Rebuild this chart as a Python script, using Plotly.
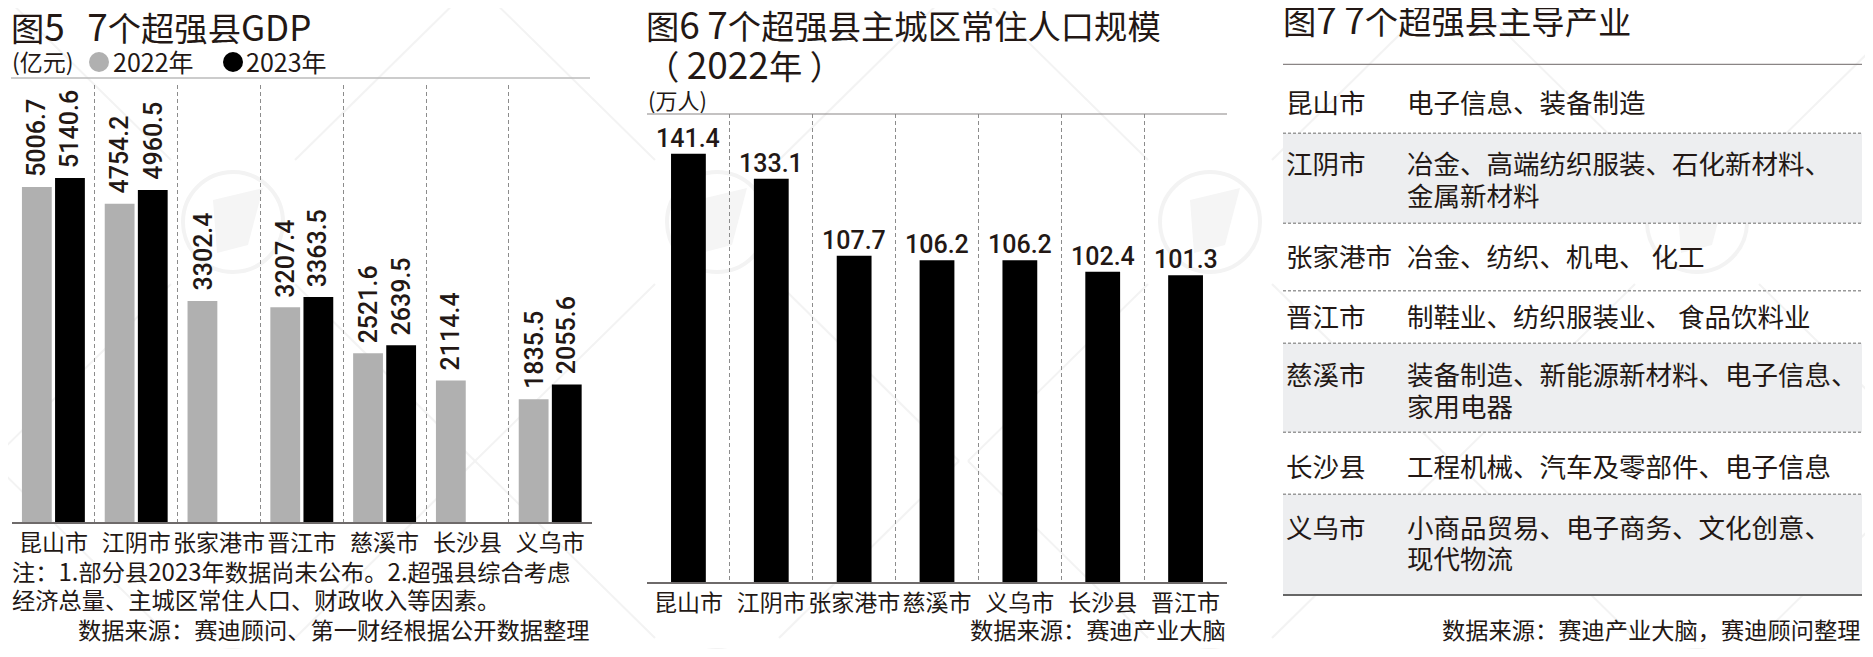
import plotly.graph_objs as go

# figure 5 data
gdp_cities = ['昆山市', '江阴市', '张家港市', '晋江市', '慈溪市', '长沙县', '义乌市']
gdp_2022 = [5006.7, 4754.2, 3302.4, 3207.4, 2521.6, 2114.4, 1835.5]
gdp_2023 = [5140.6, 4960.5, None, 3363.5, 2639.5, None, 2055.6]

# figure 6 data
pop_cities = ['昆山市', '江阴市', '张家港市', '慈溪市', '义乌市', '长沙县', '晋江市']
pop_2022 = [141.4, 133.1, 107.7, 106.2, 106.2, 102.4, 101.3]

# figure 7 table
ind_cities = ['昆山市', '江阴市', '张家港市', '晋江市', '慈溪市', '长沙县', '义乌市']
ind_text = [['电子信息、装备制造'],
            ['冶金、高端纺织服装、石化新材料、', '金属新材料'],
            ['冶金、纺织、机电、 化工'],
            ['制鞋业、纺织服装业、 食品饮料业'],
            ['装备制造、新能源新材料、电子信息、', '家用电器'],
            ['工程机械、汽车及零部件、电子信息'],
            ['小商品贸易、电子商务、文化创意、', '现代物流']]

# page has an 8px body margin, so everything is measured from there
OFF = 8
W = 1873 - 2 * OFF
H = 657 - 2 * OFF
FONT = 'Noto Sans CJK SC'
NUM_FONT = 'Roboto'
INK = '#231815'


def fx(px):
    return (px - OFF) / W


def fy(py):
    return 1 - (py - OFF) / H


def wide(s, size):
    # the original's latin glyphs run wider than the CJK font's
    return f'<span style="font-size:{size}px">{s}</span>'


def text(px, py, s, size=23.25, anchor='left', color=INK):
    return dict(xref='paper', yref='paper', x=fx(px), y=fy(py), text=s, showarrow=False,
                xanchor=anchor, yanchor='middle', borderpad=0,
                font=dict(family=FONT, size=size, color=color))


def hline(x0, x1, py, color, width=1, dash='solid', layer='above'):
    return dict(type='line', xref='paper', yref='paper', x0=fx(x0), x1=fx(x1), y0=fy(py), y1=fy(py),
                layer=layer, line=dict(color=color, width=width, dash=dash))


shapes = []
annotations = []

# watermark
for cx in [233, 717, 1210, 1697]:
    for cy in [222, 700]:
        shapes.append(dict(type='circle', xref='paper', yref='paper', layer='below',
                           x0=fx(cx - 50), x1=fx(cx + 50), y0=fy(cy - 50), y1=fy(cy + 50),
                           line=dict(color='#f3f3f3', width=4)))
        pts = [(-20, -22), (30, -34), (15, 23), (-16, 31)]
        path = 'M ' + ' L '.join(f'{fx(cx + a):.5f},{fy(cy + b):.5f}' for a, b in pts) + ' Z'
        shapes.append(dict(type='path', xref='paper', yref='paper', layer='below', path=path,
                           fillcolor='#f5f5f5', line=dict(width=0)))
        for sx in [-1, 1]:
            for sy in [-1, 1]:
                shapes.append(dict(type='line', xref='paper', yref='paper', layer='below',
                                   x0=fx(cx + sx * 62), y0=fy(cy + sy * 62),
                                   x1=fx(cx + sx * 242), y1=fy(cy + sy * 239),
                                   line=dict(color='#f3f3f3', width=2)))

# figure 5 heading
annotations.append(text(10, 25, '图' + wide('5', 37) + '\u00a0\u00a0\u00a0' + wide('7', 37) + '个超强县' + wide('GDP', 35), size=33.3))
annotations.append(text(11, 61, '(亿元)', size=23))
annotations.append(text(112, 61, '2022年', size=25))
annotations.append(text(245, 61, '2023年', size=25))
for cx, col in [(99, '#b0b0b0'), (233, '#000000')]:
    shapes.append(dict(type='circle', xref='paper', yref='paper', x0=fx(cx - 10), x1=fx(cx + 10),
                       y0=fy(52), y1=fy(72), fillcolor=col, line=dict(width=0)))
shapes.append(hline(11, 590, 78, '#bbbbbb', 1.5))
annotations.append(text(11, 570, '注：' + wide('1.', 24) + '部分县' + wide('2023', 24) + '年数据尚未公布。'
                        + wide('2.', 24) + '超强县综合考虑'))
annotations.append(text(11, 599, '经济总量、主城区常住人口、财政收入等因素。'))
annotations.append(text(591, 629, '数据来源：赛迪顾问、第一财经根据公开数据整理', anchor='right'))

# figure 6 heading
annotations.append(text(645, 23, '图' + wide('6', 37) + ' ' + wide('7', 37) + '个超强县主城区常住人口规模', size=33.3))
annotations.append(text(645, 63, '（ ' + wide('2022', 37) + '年 ）', size=33.3))
annotations.append(text(647, 99, '(万人)', size=22))
shapes.append(hline(647, 1227, 114, '#8a8585', 1.2))
annotations.append(text(1227, 629, '数据来源：赛迪产业大脑', anchor='right'))

# figure 7 table
annotations.append(text(1282, 18, '图' + wide('7', 37) + ' ' + wide('7', 37) + '个超强县主导产业', size=33.3))
shapes.append(hline(1283, 1862, 64.3, '#8a8585', 1.2))
row_edges = [64.3, 133.3, 223.3, 290.7, 343.3, 432.3, 494.3, 595]
row_y = [[102], [162, 195], [255], [315], [373, 405], [465], [526, 557]]
for i, city in enumerate(ind_cities):
    if i in (1, 4, 6):
        shapes.append(dict(type='rect', xref='paper', yref='paper', layer='below',
                           x0=fx(1283), x1=fx(1862), y0=fy(row_edges[i]), y1=fy(row_edges[i + 1]),
                           fillcolor='#edeef0', line=dict(width=0)))
    if i > 0:
        shapes.append(hline(1283, 1862, row_edges[i], '#999999', 1.5, '3px,2px'))
    annotations.append(text(1284.5, row_y[i][0], city, size=26.5))
    for line, ly in zip(ind_text[i], row_y[i]):
        annotations.append(text(1406, ly, line, size=26.5))
shapes.append(hline(1283, 1862, 595, '#666666', 2))
annotations.append(text(1862, 629, '数据来源：赛迪产业大脑，赛迪顾问整理', anchor='right'))

# value labels, tied to the data
for city, a, b in zip(gdp_cities, gdp_2022, gdp_2023):
    for val, shift in [(a, -16.5), (b, 16.5)]:
        if val is None:
            continue
        annotations.append(dict(xref='x', yref='y', x=city, y=val, text=f'{val:.1f}', showarrow=False,
                                textangle=-90, xanchor='center', yanchor='bottom', xshift=shift, yshift=8,
                                font=dict(family=NUM_FONT, size=25, color=INK, weight=500)))
for city, val in zip(pop_cities, pop_2022):
    annotations.append(dict(xref='x2', yref='y2', x=city, y=val, text=f'{val:.1f}', showarrow=False,
                            xanchor='center', yanchor='bottom', yshift=-1,
                            font=dict(family=NUM_FONT, size=25, color=INK, weight=500)))

data = [go.Bar(x=gdp_cities, y=gdp_2022, name='2022年', marker=dict(color='#b0b0b0', line=dict(width=0)),
               xaxis='x', yaxis='y', showlegend=False),
        go.Bar(x=gdp_cities, y=gdp_2023, name='2023年', marker=dict(color='#000000', line=dict(width=0)),
               xaxis='x', yaxis='y', showlegend=False),
        go.Bar(x=pop_cities, y=pop_2022, name='2022年', marker=dict(color='#000000', line=dict(width=0)),
               width=0.42, xaxis='x2', yaxis='y2', showlegend=False)]


def cat_axis(domain, anchor):
    return dict(domain=domain, anchor=anchor, type='category', tickson='boundaries', ticks='',
                showline=True, linecolor='#6e6a6a', linewidth=1.5, tickangle=0,
                showgrid=True, gridcolor='#8c8c8c', griddash='4px,3px', gridwidth=1,
                tickfont=dict(family=FONT, size=23, color=INK))


layout = go.Layout(width=W, height=H, margin=dict(l=0, r=0, t=0, b=0), autosize=False,
                   paper_bgcolor='white', plot_bgcolor='rgba(0,0,0,0)',
                   barmode='group', bargap=0.2, bargroupgap=0.1,
                   xaxis=cat_axis([fx(12), fx(591.6)], 'y'),
                   yaxis=dict(domain=[fy(522), fy(85)], anchor='x', range=[0, 6530], visible=False),
                   xaxis2=cat_axis([fx(647), fx(1227)], 'y2'),
                   yaxis2=dict(domain=[fy(582), fy(114)], anchor='x2', range=[0, 154.5], visible=False),
                   shapes=shapes, annotations=annotations)
fig = go.Figure(data=data, layout=layout)
fig.write_html("out.html")
